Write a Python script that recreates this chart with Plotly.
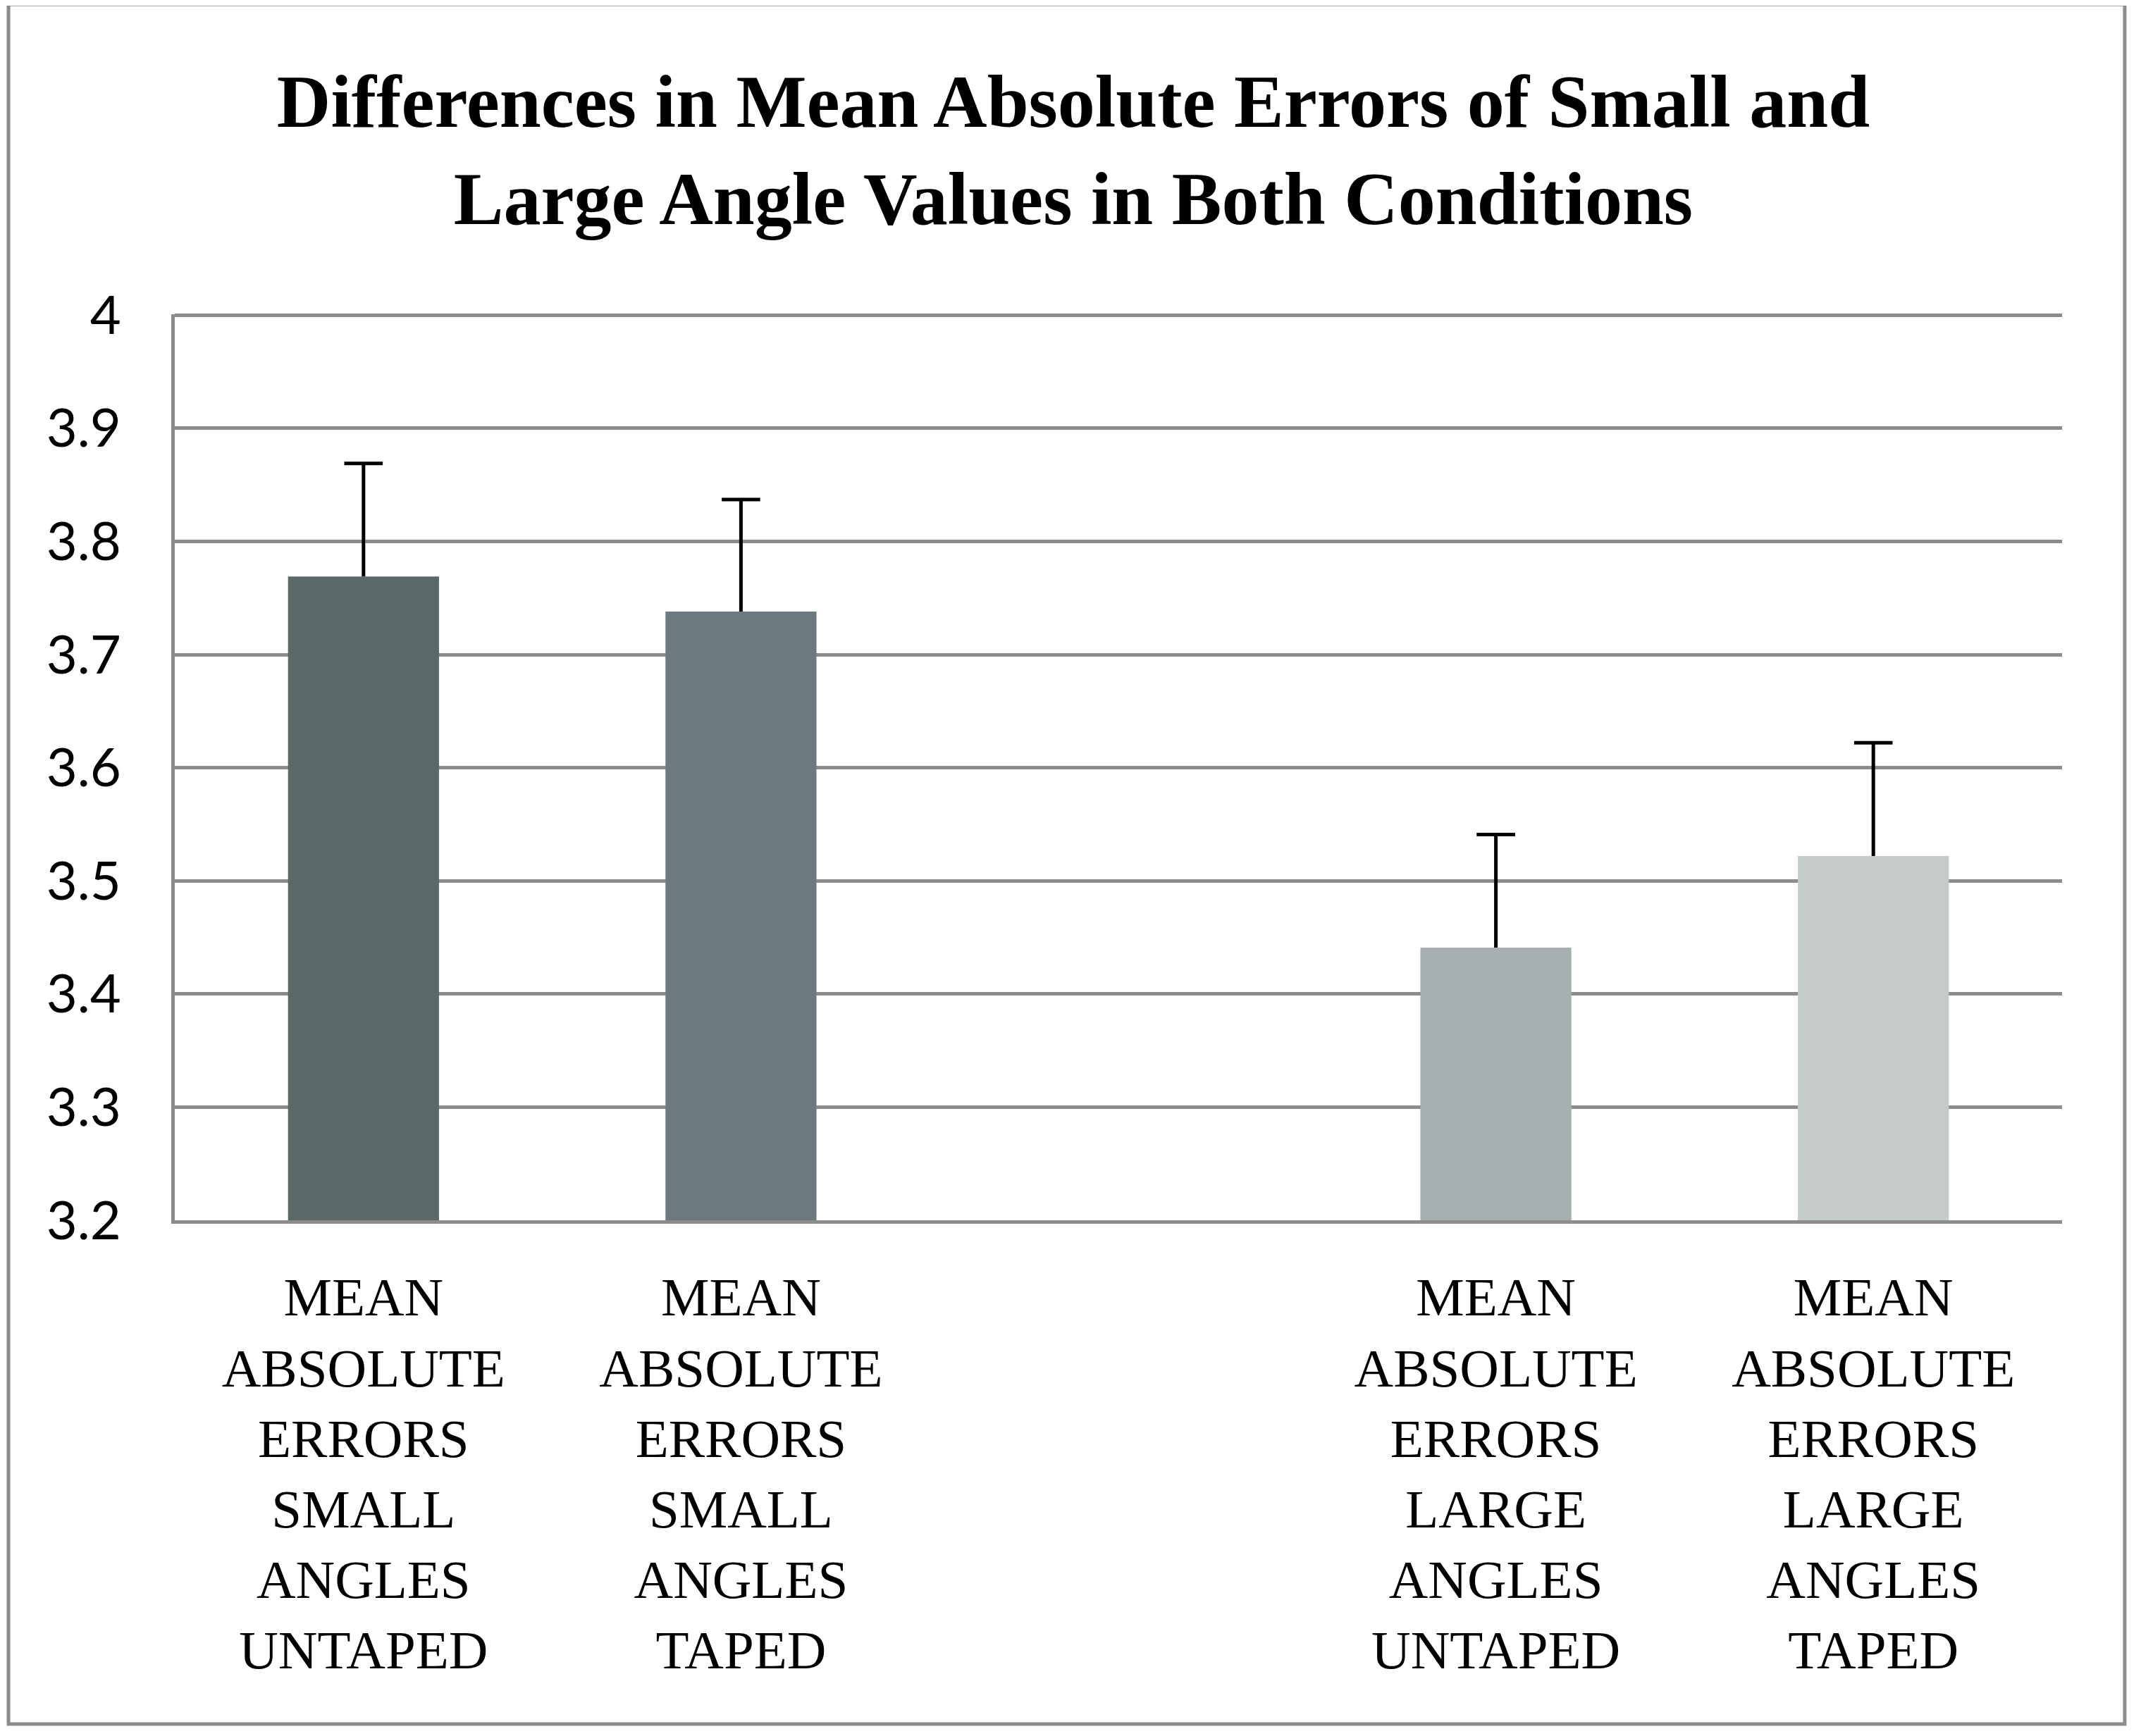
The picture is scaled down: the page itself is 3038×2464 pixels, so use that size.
import plotly.graph_objects as go

categories = [
    "MEAN<br>ABSOLUTE<br>ERRORS<br>SMALL<br>ANGLES<br>UNTAPED",
    "MEAN<br>ABSOLUTE<br>ERRORS<br>SMALL<br>ANGLES<br>TAPED",
    " ",
    "MEAN<br>ABSOLUTE<br>ERRORS<br>LARGE<br>ANGLES<br>UNTAPED",
    "MEAN<br>ABSOLUTE<br>ERRORS<br>LARGE<br>ANGLES<br>TAPED",
]
means = [3.769, 3.738, None, 3.441, 3.522]
errors = [0.100, 0.099, None, 0.100, 0.100]
bar_colors = ["#5b6868", "#6c7a7e", "#ffffff", "#a6aeaf", "#c5cbcb"]
y_ticks = [3.2, 3.3, 3.4, 3.5, 3.6, 3.7, 3.8, 3.9, 4.0]
y_ticktext = ["3.2", "3.3", "3.4", "3.5", "3.6", "3.7", "3.8", "3.9", "4"]
title_text = "Differences in Mean Absolute Errors of Small and<br>Large Angle Values in Both Conditions"

SERIF = "Liberation Serif, serif"
SANS = "Lato, sans-serif"
GRID = "#8c8c8c"

# tops of the error bars, derived from the data arrays
err_tops = [None if m is None else m + e for m, e in zip(means, errors)]

fig = go.Figure()
fig.add_trace(
    go.Bar(
        x=categories,
        y=means,
        marker=dict(color=bar_colors, line=dict(width=0)),
        error_y=dict(type="data", array=errors, symmetric=False,
                     arrayminus=[0 if e is not None else None for e in errors],
                     color="black", thickness=5, width=0),
        showlegend=False,
        hoverinfo="skip",
    )
)
# caps on top of error bars (no cap at the bar end, as in the reference)
fig.add_trace(
    go.Scatter(
        x=categories,
        y=err_tops,
        mode="markers",
        marker=dict(symbol="line-ew-open", size=39, color="black",
                    line=dict(color="black", width=5)),
        showlegend=False,
        hoverinfo="skip",
        cliponaxis=False,
    )
)

fig.update_layout(
    width=3030,
    height=2456,
    paper_bgcolor="white",
    plot_bgcolor="white",
    margin=dict(l=240, r=112, t=438, b=732),
    bargap=0.6,
    title=dict(
        text=title_text,
        x=0.5,
        xanchor="center",
        xref="container",
        yref="container",
        y=0.93,
        yanchor="middle",
        font=dict(family=SERIF, size=106, color="black", weight="bold"),
    ),
    xaxis=dict(
        type="category",
        categoryorder="array",
        categoryarray=categories,
        showgrid=False,
        showline=True,
        linecolor=GRID,
        linewidth=5,
        ticks="",
        tickfont=dict(family=SERIF, size=77, color="black"),
        ticklabelstandoff=38,
    ),
    yaxis=dict(
        range=[3.2, 4.0008],
        tickvals=y_ticks,
        ticktext=y_ticktext,
        showgrid=True,
        gridcolor=GRID,
        gridwidth=5,
        showline=True,
        linecolor=GRID,
        linewidth=5,
        zeroline=False,
        ticks="",
        tickfont=dict(family=SANS, size=76, color="black"),
        ticklabelstandoff=56,
    ),
    shapes=[
        dict(type="rect", xref="paper", yref="paper",
             x0=-0.0881, x1=1.0332, y0=-0.556, y1=1.342,
             line=dict(color=GRID, width=5), fillcolor="rgba(0,0,0,0)", layer="below"),
    ],
)

fig.write_html("out.html")
